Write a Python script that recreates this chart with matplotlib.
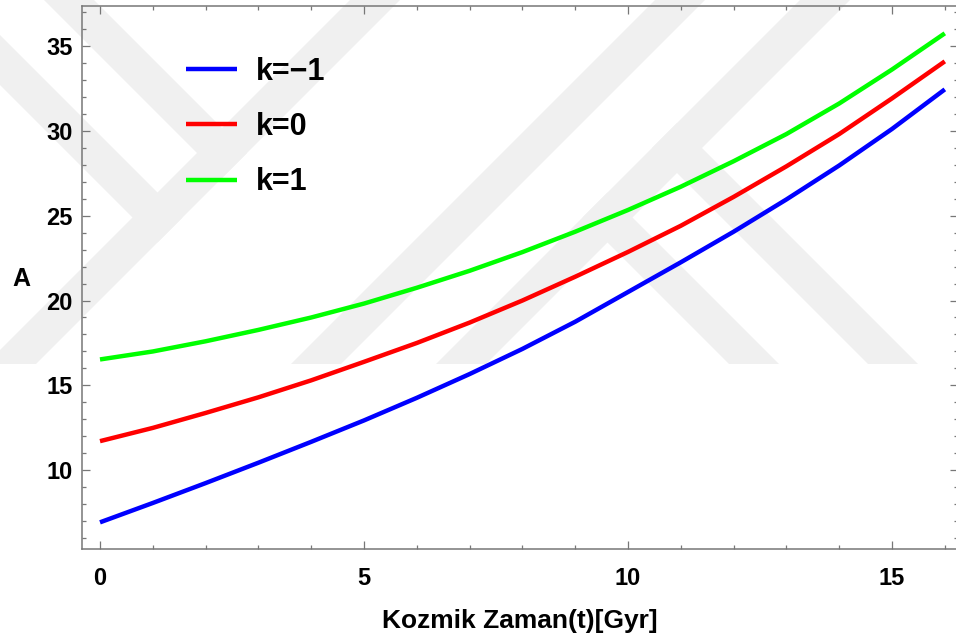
import matplotlib
matplotlib.use("Agg")
import matplotlib.pyplot as plt
from matplotlib.patches import Polygon
from matplotlib.ticker import MultipleLocator

# ---------------- data ----------------
t_gyr = [0, 1, 2, 3, 4, 5, 6, 7, 8, 9, 10, 11, 12, 13, 14, 15, 16]
A_k_minus1 = [6.94, 8.08, 9.25, 10.45, 11.68, 12.94, 14.27, 15.67, 17.15,
              18.75, 20.50, 22.25, 24.05, 25.95, 27.95, 30.10, 32.43]
A_k_0 = [11.72, 12.50, 13.38, 14.30, 15.30, 16.39, 17.50, 18.70, 20.00,
         21.40, 22.86, 24.40, 26.10, 27.90, 29.80, 31.90, 34.08]
A_k_plus1 = [16.53, 17.00, 17.60, 18.27, 19.00, 19.82, 20.75, 21.75, 22.85,
             24.05, 25.33, 26.70, 28.20, 29.80, 31.60, 33.60, 35.73]
series_labels = ["k=\u22121", "k=0", "k=1"]
series_colors = ["#0000ff", "#ff0000", "#00ff00"]
x_label = "Kozmik Zaman(t)[Gyr]"
y_label = "A"
x_major_ticks = [0, 5, 10, 15]
y_major_ticks = [10, 15, 20, 25, 30, 35]

plt.rcParams['font.family'] = ['Liberation Sans', 'DejaVu Sans']

W, H = 956, 642
fig = plt.figure(figsize=(W / 100, H / 100), dpi=100)

# ---------------- faint background watermark (pixel space) ----------------
bg = fig.add_axes([0, 0, 1, 1], zorder=0)
bg.set_xlim(0, W)
bg.set_ylim(H, 0)
bg.axis('off')
watermark_shapes = [
    [(-6, -50), (44, -50), (247, 153), (222, 178)],
    [(-135, -50), (-85, -50), (182.5, 217.5), (157.5, 242.5)],
    [(400, -50), (450, -50), (36, 364), (-14, 364)],
    [(705, -50), (755, -50), (341, 364), (291, 364)],
    [(850, -50), (900, -50), (486, 364), (436, 364)],
    [(582.5, 217.5), (607.5, 192.5), (779, 364), (729, 364)],
    [(652, 148), (677, 123), (918, 364), (868, 364)],
]
for shp in watermark_shapes:
    bg.add_patch(Polygon(shp, closed=True, facecolor='#f0f0f0',
                         edgecolor='none'))

# ---------------- main axes ----------------
left_px, right_px, top_px, bottom_px = 82, 958, 6, 549
ax = fig.add_axes([left_px / W, (H - bottom_px) / H,
                   (right_px - left_px) / W, (bottom_px - top_px) / H],
                  zorder=1)
ax.patch.set_alpha(0)

for y, lab, col in zip([A_k_minus1, A_k_0, A_k_plus1], series_labels,
                       series_colors):
    ax.plot(t_gyr, y, color=col, lw=3.2, label=lab, solid_capstyle='butt')

ax.set_xlim(-0.341, 16.25)
ax.set_ylim(5.37, 37.34)

ax.xaxis.set_major_locator(MultipleLocator(5))
ax.xaxis.set_minor_locator(MultipleLocator(1))
ax.yaxis.set_major_locator(MultipleLocator(5))
ax.yaxis.set_minor_locator(MultipleLocator(1))
ax.set_xticks(x_major_ticks)
ax.set_yticks(y_major_ticks)

frame_col = '#777777'
for sp in ax.spines.values():
    sp.set_color(frame_col)
    sp.set_linewidth(1.1)

ax.tick_params(which='both', direction='in', top=True, right=True,
               labeltop=False, labelright=False, color=frame_col,
               width=0.9, labelcolor='black')
ax.tick_params(which='major', length=5.5)
ax.tick_params(which='minor', length=3.2)
ax.tick_params(axis='x', which='major', pad=13, labelsize=17)
ax.tick_params(axis='y', which='major', pad=6.5, labelsize=17)
for lbl in ax.get_xticklabels() + ax.get_yticklabels():
    lbl.set_fontweight('bold')

ax.set_xlabel(x_label, fontsize=19, fontweight='bold')
ax.xaxis.label.set_va('center')
ax.xaxis.set_label_coords(0.5, (bottom_px - 621) / (bottom_px - top_px))
ax.set_ylabel(y_label, fontsize=18, fontweight='bold', rotation=0)
ax.yaxis.label.set_va('center')
ax.yaxis.label.set_ha('center')
ax.yaxis.set_label_coords((21 - left_px) / (right_px - left_px),
                          (bottom_px - 279) / (bottom_px - top_px))

leg = ax.legend(loc='center left',
                bbox_to_anchor=(186 / W, 1 - 127 / H),
                bbox_transform=fig.transFigure,
                frameon=False, borderpad=0, borderaxespad=0,
                handlelength=1.67, handletextpad=0.62, labelspacing=0.83,
                prop={'size': 22, 'weight': 'bold'})

fig.savefig('out.png', dpi=100)
